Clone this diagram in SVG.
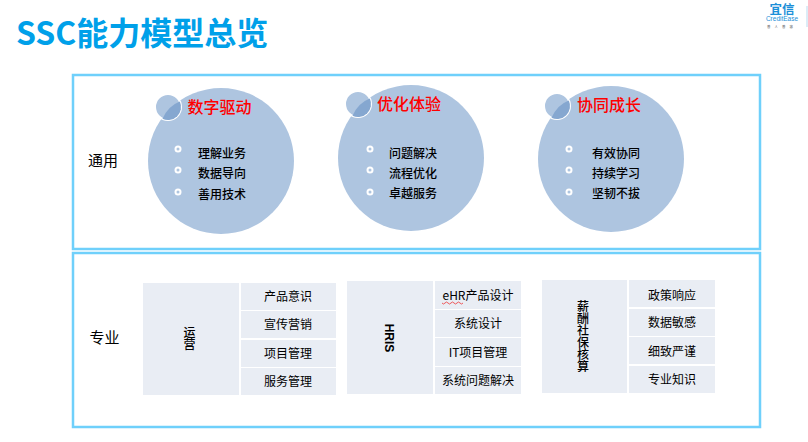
<svg xmlns="http://www.w3.org/2000/svg" width="808" height="442" viewBox="0 0 808 442">
<style>
text{font-family:"Noto Sans CJK SC","Liberation Sans",sans-serif;fill:#000}
.frame{fill:#fff;stroke:#6fd0fb;stroke-width:2.500}
.big{fill:#aec5e0}
.cap{fill:#aec5e0;stroke:#fff;stroke-width:2}
.seg{fill:#85a7d0}
.dot{fill:#fff}
.dc{fill:#aec5e0}
.h{font-size:16px;fill:#f00;font-weight:500;text-anchor:middle}
.it{font-size:12px;font-weight:500}
.cell{fill:#e9edf4}
.c{font-size:12px;text-anchor:middle}
.v{font-size:12px;text-anchor:middle;font-weight:500;writing-mode:vertical-rl}
.side{font-size:15px;text-anchor:middle}
</style>
<rect width="808" height="442" fill="#fff"/>
<text id="title" x="16" y="45" font-size="32" font-weight="700" style="fill:#00a0e9;font-family:'Noto Sans CJK SC',sans-serif">SSC能力模型总览</text>
<g id="logo">
<text x="782" y="14" font-size="12.500" font-weight="700" text-anchor="middle" style="fill:#1c8fd8">宜信</text>
<text x="782" y="21" font-size="6.500" text-anchor="middle" style="fill:#1c8fd8;font-family:'Liberation Sans',sans-serif">CreditEase</text>
<text x="782" y="27.500" font-size="3.500" letter-spacing="4" text-anchor="middle" style="fill:#555">普人普惠</text>
<line x1="807" y1="6" x2="807" y2="27" stroke="#b9d9ee"/>
</g>
<g id="frame-general"><rect class="frame" x="73" y="75" width="687" height="174"/><text class="side" x="103" y="166">通用</text></g>
<g id="frame-special"><rect class="frame" x="73" y="253" width="687" height="174"/><text class="side" x="104.500" y="343">专业</text></g>
<g id="c1">
<circle class="big" cx="221" cy="161" r="73"/>
<circle class="cap" cx="168" cy="107" r="13"/>
<path class="seg" d="M162.500 118.800A13 13 0 0 0 179.800 101.500Q168 106 162.500 118.800Z"/>
<text class="h" x="219.500" y="113">数字驱动</text>
<circle class="dot" cx="178" cy="149" r="3.500"/><circle class="dc" cx="178" cy="149" r="1.500"/>
<circle class="dot" cx="178" cy="170" r="3.500"/><circle class="dc" cx="178" cy="170" r="1.500"/>
<circle class="dot" cx="178" cy="192" r="3.500"/><circle class="dc" cx="178" cy="192" r="1.500"/>
<text class="it" x="198" y="158">理解业务</text><text class="it" x="198" y="178">数据导向</text><text class="it" x="198" y="199">善用技术</text>
</g>
<g id="c2">
<circle class="big" cx="411" cy="158" r="73"/>
<circle class="cap" cx="358" cy="104" r="13"/>
<path class="seg" d="M352.500 115.800A13 13 0 0 0 369.800 98.500Q358 103 352.500 115.800Z"/>
<text class="h" x="409" y="110">优化体验</text>
<circle class="dot" cx="370" cy="149" r="3.500"/><circle class="dc" cx="370" cy="149" r="1.500"/>
<circle class="dot" cx="370" cy="170" r="3.500"/><circle class="dc" cx="370" cy="170" r="1.500"/>
<circle class="dot" cx="370" cy="192" r="3.500"/><circle class="dc" cx="370" cy="192" r="1.500"/>
<text class="it" x="389" y="158">问题解决</text><text class="it" x="389" y="178">流程优化</text><text class="it" x="389" y="198">卓越服务</text>
</g>
<g id="c3">
<circle class="big" cx="611" cy="159" r="73"/>
<circle class="cap" cx="557" cy="106" r="13"/>
<path class="seg" d="M551.500 117.800A13 13 0 0 0 568.800 100.500Q557 105 551.500 117.800Z"/>
<text class="h" x="609" y="111">协同成长</text>
<circle class="dot" cx="569" cy="149" r="3.500"/><circle class="dc" cx="569" cy="149" r="1.500"/>
<circle class="dot" cx="569" cy="170" r="3.500"/><circle class="dc" cx="569" cy="170" r="1.500"/>
<circle class="dot" cx="569" cy="192" r="3.500"/><circle class="dc" cx="569" cy="192" r="1.500"/>
<text class="it" x="592" y="158">有效协同</text><text class="it" x="592" y="178">持续学习</text><text class="it" x="592" y="198">坚韧不拔</text>
</g>
<g id="t1">
<rect class="cell" x="143" y="283" width="96" height="112"/>
<rect class="cell" x="241" y="283" width="95" height="27"/><rect class="cell" x="241" y="311" width="95" height="27"/><rect class="cell" x="241" y="340" width="95" height="27"/><rect class="cell" x="241" y="368" width="95" height="27"/>
<text class="v" x="189.500" y="338.500">运营</text>
<text class="c" x="288" y="301">产品意识</text><text class="c" x="288" y="329">宣传营销</text><text class="c" x="288" y="358">项目管理</text><text class="c" x="288" y="386">服务管理</text>
</g>
<g id="t2">
<rect class="cell" x="347" y="281" width="86" height="113"/>
<rect class="cell" x="435" y="281" width="86" height="28"/><rect class="cell" x="435" y="310" width="86" height="27"/><rect class="cell" x="435" y="338" width="86" height="28"/><rect class="cell" x="435" y="367" width="86" height="27"/>
<text transform="translate(385 338) rotate(90)" font-size="12" font-weight="700" text-anchor="middle" style="font-family:'Liberation Sans',sans-serif">HRIS</text>
<text class="c" x="478" y="300">eHR产品设计</text><text class="c" x="478" y="328">系统设计</text><text class="c" x="478" y="357">IT项目管理</text><text class="c" x="478" y="385">系统问题解决</text>
<path d="M442 303q1.500 2 3 0t3 0 3 0 3 0 3 0 3 0 3 0" fill="none" stroke="#e33" stroke-width=".8"/>
</g>
<g id="t3">
<rect class="cell" x="542" y="280" width="85" height="113"/>
<rect class="cell" x="629" y="280" width="86" height="27"/><rect class="cell" x="629" y="309" width="86" height="27"/><rect class="cell" x="629" y="337" width="86" height="27"/><rect class="cell" x="629" y="366" width="86" height="27"/>
<text class="v" x="583" y="336">薪酬社保核算</text>
<text class="c" x="672" y="300">政策响应</text><text class="c" x="672" y="327">数据敏感</text><text class="c" x="672" y="356">细致严谨</text><text class="c" x="672" y="384">专业知识</text>
</g>
</svg>
